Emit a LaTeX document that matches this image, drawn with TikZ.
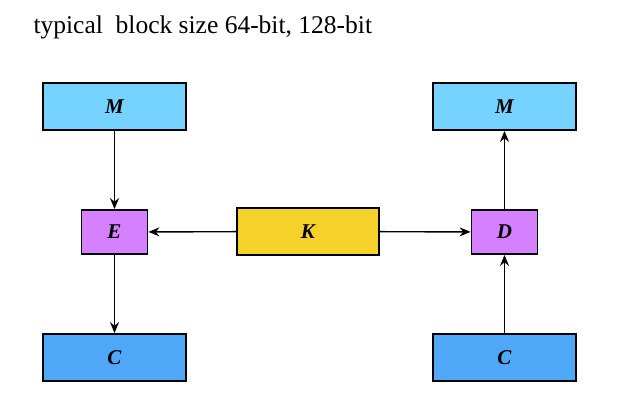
\documentclass[tikz,border=0pt]{standalone}
\usepackage{fontspec}
\setmainfont{Liberation Serif}
\usetikzlibrary{arrows.meta}
\usetikzlibrary{positioning}

\definecolor{mblue}{HTML}{76D3FF}
\definecolor{cblue}{HTML}{4FA7F8}
\definecolor{epurple}{HTML}{D580FF}
\definecolor{kyellow}{HTML}{F5D22A}

\begin{document}
\begin{tikzpicture}[x=1pt,y=-1pt,
  blk/.style={shape=rectangle,draw,line width=1.8pt,minimum width=143pt,minimum height=47pt,
    font=\fontsize{21}{23}\selectfont\bfseries\itshape},
  sblk/.style={blk,minimum width=66pt,minimum height=44pt},
  link/.style={line width=1.4pt,-{Stealth[length=11pt,width=9pt]}}]
\useasboundingbox (0,0) rectangle (622,402);
\draw (30,33) node (title) [anchor=base west,font=\fontsize{25.5}{28}\selectfont] {typical\ \ block size 64-bit, 128-bit};
\draw (114.5,106.5) node (m1) [blk,fill=mblue] {M};
\draw (m1) ++(0,125.5) node (e) [sblk,fill=epurple] {E};
\draw (m1) ++(0,251) node (c1) [blk,fill=cblue] {C};
\draw (308,231.5) node (k) [blk,fill=kyellow,minimum width=142pt] {K};
\draw (504.5,106.5) node (m2) [blk,fill=mblue] {M};
\draw (m2) ++(0,125.5) node (d) [sblk,fill=epurple] {D};
\draw (m2) ++(0,251) node (c2) [blk,fill=cblue] {C};
\draw [link] (m1) -- (e);
\draw [link] (e) -- (c1);
\draw [link] (k) -- (e);
\draw [link] (k) -- (d);
\draw [link] (c2) -- (d);
\draw [link] (d) -- (m2);
\end{tikzpicture}
\end{document}
